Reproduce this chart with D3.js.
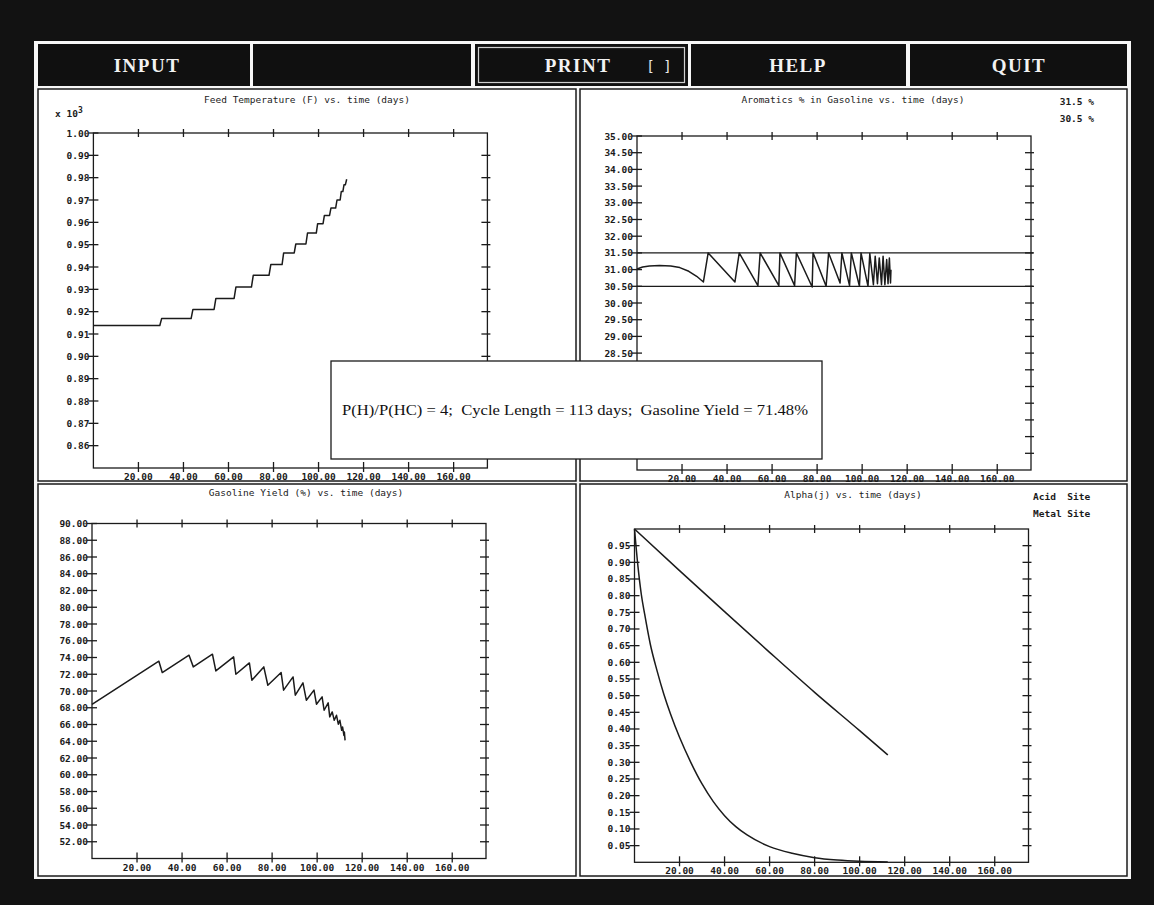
<!DOCTYPE html>
<html>
<head>
<meta charset="utf-8">
<script src="https://cdn.jsdelivr.net/npm/d3@7"></script>
<style>
  html, body { margin: 0; padding: 0; background: #121212; }
  svg { display: block; }
</style>
</head>
<body>
<div id="chart"></div>
<script>
// ---- data ----
const dayTicks = [20, 40, 60, 80, 100, 120, 140, 160];

const tempTicks = [1.00, 0.99, 0.98, 0.97, 0.96, 0.95, 0.94, 0.93, 0.92, 0.91, 0.90, 0.89, 0.88, 0.87, 0.86];
const feedTemp = [[0, 0.9138], [29.5, 0.9138], [30.3, 0.9169], [43.4, 0.9169], [44.2, 0.9210], [53.6, 0.9210],
  [54.4, 0.9259], [62.5, 0.9259], [63.3, 0.9310], [70.2, 0.9310], [71.0, 0.9363], [78.0, 0.9363], [78.8, 0.9411],
  [83.8, 0.9411], [84.5, 0.9463], [89.2, 0.9463], [89.9, 0.9503], [94.4, 0.9503], [95.1, 0.9552], [99.0, 0.9552],
  [99.6, 0.9594], [102.0, 0.9594], [102.6, 0.9631], [104.9, 0.9631], [105.5, 0.9664], [107.6, 0.9664],
  [108.2, 0.9700], [109.6, 0.9700], [110.1, 0.9738], [110.8, 0.9738], [111.3, 0.9768], [111.9, 0.9768], [112.5, 0.9793]];

const aroTicks = [35.0, 34.5, 34.0, 33.5, 33.0, 32.5, 32.0, 31.5, 31.0, 30.5, 30.0, 29.5, 29.0, 28.5, 28.0, 27.5, 27.0, 26.5, 26.0, 25.5];
// labels below 28.50 sit under the result box on screen
const aroLabels = [35.0, 34.5, 34.0, 33.5, 33.0, 32.5, 32.0, 31.5, 31.0, 30.5, 30.0, 29.5, 29.0, 28.5];
const aroLimits = [31.5, 30.5];
const aroLegend = ["31.5 %", "30.5 %"];
const aromatics = [[0, 31.02], [2.5, 31.08], [5.5, 31.11], [10, 31.12], [15, 31.11], [19, 31.06], [23, 30.95],
  [26.5, 30.8], [29.5, 30.63], [31.6, 31.5], [43.5, 30.63], [45.4, 31.5], [53.7, 30.52], [54.7, 31.5],
  [63.0, 30.52], [63.5, 31.5], [70.0, 30.52], [70.8, 31.5], [77.8, 30.48], [78.2, 31.5], [84.0, 30.5],
  [85.1, 31.5], [90.2, 30.6], [91.0, 31.5], [94.4, 30.52], [95.2, 31.5], [98.8, 30.5], [99.5, 31.5],
  [102.6, 30.5], [103.4, 31.48], [105.0, 30.55], [105.8, 31.4], [106.8, 30.58], [107.6, 31.35], [108.6, 30.55],
  [109.3, 31.4], [110.1, 30.55], [110.9, 31.3], [111.5, 30.58], [112.1, 31.35], [112.6, 30.6], [112.8, 31.0]];

const yieldTicks = [90, 88, 86, 84, 82, 80, 78, 76, 74, 72, 70, 68, 66, 64, 62, 60, 58, 56, 54, 52];
const gasYield = [[0, 68.4], [29.7, 73.56], [31.2, 72.2], [43.1, 74.27], [45.0, 72.88], [53.5, 74.39], [55.0, 72.4],
  [62.9, 74.07], [63.9, 72.0], [69.9, 73.35], [71.0, 71.29], [76.3, 72.88], [78.1, 70.69], [84.0, 72.2],
  [85.1, 70.1], [89.3, 71.68], [90.3, 69.5], [93.7, 70.97], [95.2, 68.9], [98.6, 70.1], [99.7, 68.42],
  [102.2, 69.3], [103.1, 67.7], [104.9, 68.58], [105.6, 66.91], [106.7, 67.5], [107.6, 66.5], [108.6, 67.1],
  [109.4, 66.04], [110.1, 66.5], [110.9, 65.3], [111.3, 65.7], [111.9, 64.7], [112.1, 65.1], [112.4, 64.1]];

const alphaTicks = [0.95, 0.90, 0.85, 0.80, 0.75, 0.70, 0.65, 0.60, 0.55, 0.50, 0.45, 0.40, 0.35, 0.30, 0.25, 0.20, 0.15, 0.10, 0.05];
const alphaLegend = ["Acid  Site", "Metal Site"];
const acidSite = [[0, 1.0], [20, 0.875], [40, 0.752], [60, 0.63], [80, 0.51], [100, 0.395], [112.5, 0.322]];
const metalSite = [[0, 1.0], [1.5, 0.89], [3, 0.805], [4.5, 0.745], [7, 0.655], [10, 0.575], [13, 0.505],
  [16, 0.445], [20, 0.375], [25, 0.3], [30, 0.235], [35, 0.182], [40, 0.14], [45, 0.107], [50, 0.082],
  [60, 0.047], [70, 0.027], [80, 0.014], [90, 0.007], [100, 0.003], [112.5, 0.001]];

const menuItems = ["INPUT", "", "PRINT", "HELP", "QUIT"];
const summary = "P(H)/P(HC) = 4;  Cycle Length = 113 days;  Gasoline Yield = 71.48%";

// ---- drawing ----
const width = 1154, height = 905;
const INK = "#1b1b1b";
const MONO = "'DejaVu Sans Mono', monospace";

const svg = d3.select("#chart").append("svg")
  .attr("width", width).attr("height", height)
  .attr("viewBox", [0, 0, width, height]);

svg.append("rect").attr("width", width).attr("height", height).attr("fill", "#121212");
// white screen frame
svg.append("rect").attr("x", 34).attr("y", 41).attr("width", 1097).attr("height", 838).attr("fill", "#f7f7f7");

// menu bar
const menuBoxes = [[38, 250], [253, 471], [475, 688], [691, 906], [910, 1127]];
const menuCenters = [147, 362, 578, 798, 1019];
menuBoxes.forEach((b, i) => {
  svg.append("rect").attr("x", b[0]).attr("y", 44).attr("width", b[1] - b[0]).attr("height", 42)
    .attr("fill", "#101010");
  if (menuItems[i]) {
    svg.append("text").attr("x", menuCenters[i]).attr("y", 72)
      .attr("text-anchor", "middle")
      .attr("font-family", "'Liberation Serif', serif").attr("font-weight", "bold")
      .attr("font-size", 19).attr("letter-spacing", 1.5)
      .attr("fill", "#f2f2f2").text(menuItems[i]);
  }
});
// PRINT has the inner (selected) border and the check box
svg.append("rect").attr("x", 478.5).attr("y", 47.5).attr("width", 206).attr("height", 35)
  .attr("fill", "none").attr("stroke", "#cfcfcf").attr("stroke-width", 1.2);
svg.append("text").attr("x", 659).attr("y", 71).attr("text-anchor", "middle")
  .attr("font-family", MONO).attr("font-size", 14).attr("fill", "#e8e8e8").text("[ ]");

const dayDomain = [0, 175];
const fmt = d3.format(".2f");

function drawPanel(cfg) {
  const g = svg.append("g");
  g.append("rect").attr("x", cfg.box[0]).attr("y", cfg.box[1])
    .attr("width", cfg.box[2]).attr("height", cfg.box[3])
    .attr("fill", "#ffffff").attr("stroke", INK).attr("stroke-width", 1.5);

  const [px, py, pw, ph] = cfg.plot;
  const x = d3.scaleLinear().domain(dayDomain).range([px, px + pw]);
  const y = d3.scaleLinear().domain(cfg.yDomain).range([py + ph, py]);
  const left = x(dayDomain[0]), right = x(dayDomain[1]);
  const top = y(cfg.yDomain[1]), bottom = y(cfg.yDomain[0]);

  // title
  g.append("text").attr("x", cfg.title[1]).attr("y", cfg.title[2])
    .attr("text-anchor", "middle").attr("font-family", MONO).attr("font-size", 9.5)
    .attr("fill", INK).text(cfg.title[0]);

  // plot box
  g.append("rect").attr("x", left).attr("y", top).attr("width", right - left).attr("height", bottom - top)
    .attr("fill", "none").attr("stroke", INK).attr("stroke-width", 1.3);

  const ticks = g.append("g").attr("stroke", INK).attr("stroke-width", 1.3);
  ticks.selectAll(".tt").data(dayTicks).join("line")
    .attr("x1", d => x(d)).attr("x2", d => x(d)).attr("y1", top - 4).attr("y2", top + 4);
  ticks.selectAll(".bt").data(dayTicks).join("line")
    .attr("x1", d => x(d)).attr("x2", d => x(d)).attr("y1", bottom - 6).attr("y2", bottom + 4);
  ticks.selectAll(".lt").data(cfg.yTicks).join("line")
    .attr("x1", left - 5).attr("x2", left + 5).attr("y1", d => y(d)).attr("y2", d => y(d));
  ticks.selectAll(".rt").data(cfg.yTicks.filter(d => d < cfg.yDomain[1])).join("line")
    .attr("x1", right - 6).attr("x2", right + 3).attr("y1", d => y(d)).attr("y2", d => y(d));

  const labels = g.append("g").attr("font-family", MONO).attr("font-size", 9.5)
    .attr("font-weight", "bold").attr("fill", INK);
  labels.selectAll(".xl").data(dayTicks).join("text")
    .attr("x", d => x(d)).attr("y", bottom + 12).attr("text-anchor", "middle").text(d => fmt(d));
  labels.selectAll(".yl").data(cfg.yLabels || cfg.yTicks).join("text")
    .attr("x", left - 4).attr("y", d => y(d) + 3.5).attr("text-anchor", "end").text(d => fmt(d));

  (cfg.hlines || []).forEach(v => {
    g.append("line").attr("x1", left).attr("x2", right + 2).attr("y1", y(v)).attr("y2", y(v))
      .attr("stroke", INK).attr("stroke-width", 1.3);
  });

  cfg.series.forEach(s => {
    const line = d3.line().x(d => x(d[0])).y(d => y(d[1]));
    if (s.smooth) line.curve(d3.curveMonotoneX);
    g.append("path").datum(s.data).attr("d", line)
      .attr("fill", "none").attr("stroke", INK).attr("stroke-width", 1.5)
      .attr("stroke-linejoin", "round");
  });

  (cfg.legend || []).forEach((t, i) => {
    g.append("text").attr("x", cfg.legendPos[0]).attr("y", cfg.legendPos[1] + i * 17)
      .attr("text-anchor", cfg.legendPos[2]).attr("font-family", MONO).attr("font-size", 9.5)
      .attr("font-weight", "bold").attr("fill", INK).style("white-space", "pre").text(t);
  });
  return g;
}

const tl = drawPanel({
  box: [38, 89, 538, 392], plot: [93.4, 133, 394, 335],
  title: ["Feed Temperature (F) vs. time (days)", 307, 103],
  yDomain: [0.85, 1.00], yTicks: tempTicks,
  series: [{ data: feedTemp }]
});
const mult = tl.append("text").attr("x", 55).attr("y", 117)
  .attr("font-family", MONO).attr("font-size", 9.5).attr("font-weight", "bold").attr("fill", INK);
mult.append("tspan").text("x 10");
mult.append("tspan").attr("dy", -4).attr("font-size", 8).text("3");

drawPanel({
  box: [580, 89, 547, 392], plot: [637, 136, 394, 334],
  title: ["Aromatics % in Gasoline vs. time (days)", 853, 103],
  yDomain: [25, 35], yTicks: aroTicks, yLabels: aroLabels,
  hlines: aroLimits,
  series: [{ data: aromatics }],
  legend: aroLegend, legendPos: [1094, 105, "end"]
});

drawPanel({
  box: [38, 484, 538, 392], plot: [92, 523.5, 394, 335],
  title: ["Gasoline Yield (%) vs. time (days)", 306, 496],
  yDomain: [50, 90], yTicks: yieldTicks,
  series: [{ data: gasYield }]
});

drawPanel({
  box: [580, 484, 547, 392], plot: [634.5, 529, 394, 333.3],
  title: ["Alpha(j) vs. time (days)", 853, 498],
  yDomain: [0, 1], yTicks: alphaTicks,
  series: [{ data: acidSite, smooth: true }, { data: metalSite, smooth: true }],
  legend: alphaLegend, legendPos: [1033, 500, "start"]
});

// result dialog
svg.append("rect").attr("x", 331).attr("y", 361).attr("width", 491).attr("height", 98)
  .attr("fill", "#ffffff").attr("stroke", INK).attr("stroke-width", 1.3);
svg.append("text").attr("x", 342).attr("y", 415)
  .attr("font-family", "'Liberation Serif', serif").attr("font-size", 15.5)
  .attr("fill", "#111").style("white-space", "pre")
  .attr("textLength", 466).attr("lengthAdjust", "spacingAndGlyphs")
  .text(summary);
</script>
</body>
</html>
